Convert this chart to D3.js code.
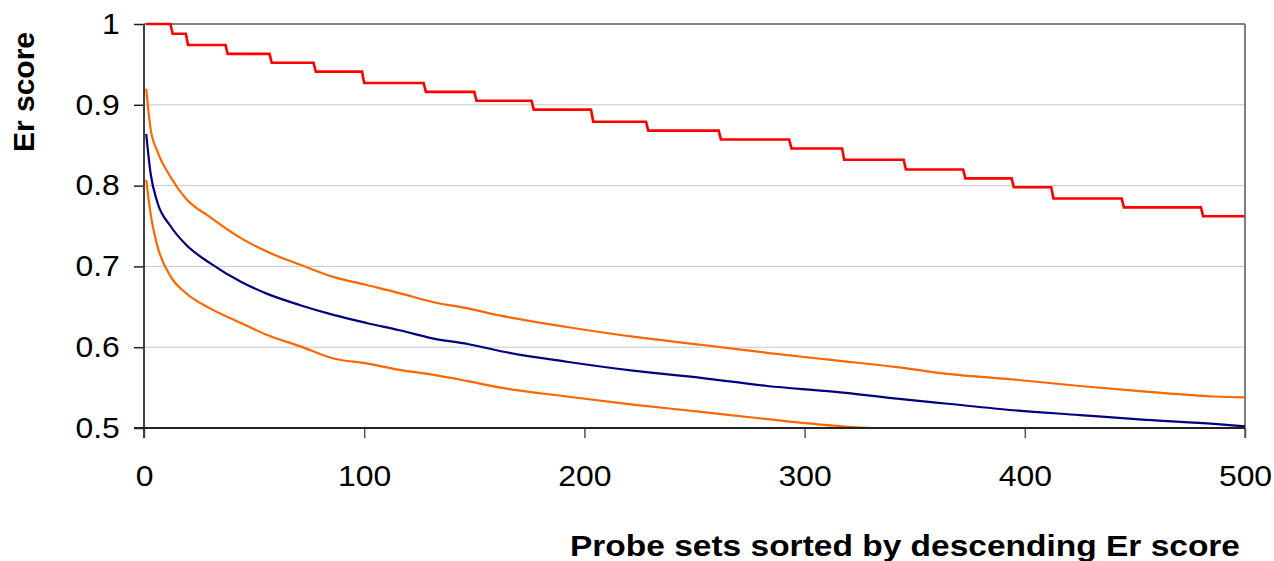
<!DOCTYPE html>
<html>
<head>
<meta charset="utf-8">
<script src="https://cdn.jsdelivr.net/npm/d3@7"></script>
<style>
  body { margin: 0; background: #fff; }
  text { font-family: "Liberation Sans", Arial, sans-serif; }
</style>
</head>
<body>
<div id="chart"></div>
<script>
// x ticks / y ticks
const xTicks = [0, 100, 200, 300, 400, 500];
const yTicks = [0.5, 0.6, 0.7, 0.8, 0.9, 1];

// red step line: index where each step begins, and its level
const redStepX = [1, 13, 20, 38, 58, 78, 100, 128, 151, 177, 204, 229, 262, 294, 318, 346, 373, 395, 413, 445, 481];
const redStepY = [1, 0.988, 0.974, 0.963, 0.952, 0.941, 0.927, 0.916, 0.905, 0.894, 0.879, 0.868, 0.857, 0.846, 0.832, 0.820, 0.809, 0.798, 0.784, 0.773, 0.762];

// sampled positions along the sorted probe sets
const probeIdx = [1, 3, 6, 12, 19, 30, 44, 56, 71, 86, 101, 116, 131, 147, 162, 192, 222, 253, 283, 313, 343, 365, 395, 425, 455, 486, 500];
const upperOrange = [0.92, 0.870, 0.843, 0.811, 0.784, 0.761, 0.735, 0.718, 0.702, 0.687, 0.677, 0.667, 0.656, 0.648, 0.639, 0.625, 0.613, 0.603, 0.593, 0.584, 0.575, 0.567, 0.560, 0.552, 0.545, 0.539, 0.538];
const blueMean = [0.864, 0.815, 0.780, 0.750, 0.727, 0.704, 0.681, 0.666, 0.652, 0.640, 0.630, 0.621, 0.611, 0.604, 0.595, 0.582, 0.571, 0.562, 0.552, 0.545, 0.536, 0.530, 0.522, 0.516, 0.510, 0.505, 0.502];

// lower orange stops before the end
const lowerIdx = [1, 3, 6, 12, 19, 30, 44, 56, 71, 86, 101, 116, 131, 147, 162, 192, 222, 253, 283, 313, 331, 345];
const lowerOrange = [0.807, 0.765, 0.726, 0.688, 0.667, 0.648, 0.630, 0.615, 0.601, 0.586, 0.580, 0.572, 0.566, 0.558, 0.550, 0.539, 0.529, 0.520, 0.511, 0.503, 0.5, 0.5];

const W = 1274, H = 561;
const margin = { top: 24, right: 29, bottom: 133, left: 144 },
  width = W - margin.left - margin.right,
  height = H - margin.top - margin.bottom;

const svg = d3.select("#chart")
  .append("svg")
  .attr("width", W)
  .attr("height", H);

const g = svg.append("g")
  .attr("transform", `translate(${margin.left},${margin.top})`);

const x = d3.scaleLinear().domain([0, 500]).range([0, width]);
const y = d3.scaleLinear().domain([0.5, 1]).range([height, 0]);

// gridlines
g.append("g")
  .selectAll("line")
  .data(yTicks.filter(d => d > 0.5 && d < 1))
  .join("line")
  .attr("x1", 0)
  .attr("x2", width)
  .attr("y1", d => y(d))
  .attr("y2", d => y(d))
  .attr("stroke", "#c8c8c8")
  .attr("stroke-width", 1);

// top and right frame
g.append("line")
  .attr("x1", 0).attr("x2", width)
  .attr("y1", 0).attr("y2", 0)
  .attr("stroke", "#808080").attr("stroke-width", 2);
g.append("line")
  .attr("x1", width).attr("x2", width)
  .attr("y1", 0).attr("y2", height + 10)
  .attr("stroke", "#808080").attr("stroke-width", 2);

// axes
const yAxis = g.append("g")
  .call(d3.axisLeft(y).tickValues(yTicks).tickFormat(d3.format("")).tickSize(10).tickPadding(12));
const xAxis = g.append("g")
  .attr("transform", `translate(0,${height})`)
  .call(d3.axisBottom(x).tickValues(xTicks).tickSize(10).tickPadding(27));

[yAxis, xAxis].forEach(ax => {
  ax.select(".domain").remove();
  ax.selectAll(".tick line").attr("stroke", "#222").attr("stroke-width", 1.5);
  ax.selectAll("text")
    .attr("font-family", "Liberation Sans, Arial, sans-serif")
    .attr("font-size", 29)
    .attr("fill", "#000");
});
xAxis.selectAll(".tick line").attr("stroke", "#555");
// reference digits are a little wider than the font's own
xAxis.selectAll("text").attr("transform", "scale(1.1,1)");
yAxis.selectAll("text").attr("transform", "translate(-22,0) scale(1.1,1) translate(20,0)");

// lines
const line = d3.line()
  .x(d => x(d[0]))
  .y(d => y(d[1]))
  .curve(d3.curveMonotoneX);

const series = [
  { name: "upper", xs: probeIdx, ys: upperOrange, color: "#ff6600", w: 2.2 },
  { name: "lower", xs: lowerIdx, ys: lowerOrange, color: "#ff6600", w: 2.2 },
  { name: "mean", xs: probeIdx, ys: blueMean, color: "#000080", w: 2.2 }
];

g.selectAll(".curve")
  .data(series)
  .join("path")
  .attr("class", "curve")
  .attr("fill", "none")
  .attr("stroke", d => d.color)
  .attr("stroke-width", d => d.w)
  .attr("d", d => line(d.xs.map((v, i) => [v, d.ys[i]])));

// red step line, each drop spread over one probe set
const redPts = [];
redStepX.forEach((sx, i) => {
  const next = i + 1 < redStepX.length ? redStepX[i + 1] - 1 : 500;
  redPts.push([sx, redStepY[i]]);
  redPts.push([next, redStepY[i]]);
});

g.append("path")
  .attr("fill", "none")
  .attr("stroke", "#ff0000")
  .attr("stroke-width", 2.6)
  .attr("d", d3.line().x(d => x(d[0])).y(d => y(d[1]))(redPts));

// left and bottom axis lines
g.append("line")
  .attr("x1", 0).attr("x2", 0)
  .attr("y1", 0).attr("y2", height + 10)
  .attr("stroke", "#404040").attr("stroke-width", 2);
g.append("line")
  .attr("x1", -10).attr("x2", width)
  .attr("y1", height).attr("y2", height)
  .attr("stroke", "#222").attr("stroke-width", 2);

// axis titles
svg.append("text")
  .attr("x", 1240)
  .attr("y", 556)
  .attr("text-anchor", "end")
  .attr("font-size", 29)
  .attr("font-weight", "bold")
  .attr("textLength", 670)
  .attr("lengthAdjust", "spacingAndGlyphs")
  .text("Probe sets sorted by descending Er score");

svg.append("text")
  .attr("transform", "translate(34,92) rotate(-90)")
  .attr("text-anchor", "middle")
  .attr("font-size", 30)
  .attr("font-weight", "bold")
  .text("Er score");
</script>
</body>
</html>
